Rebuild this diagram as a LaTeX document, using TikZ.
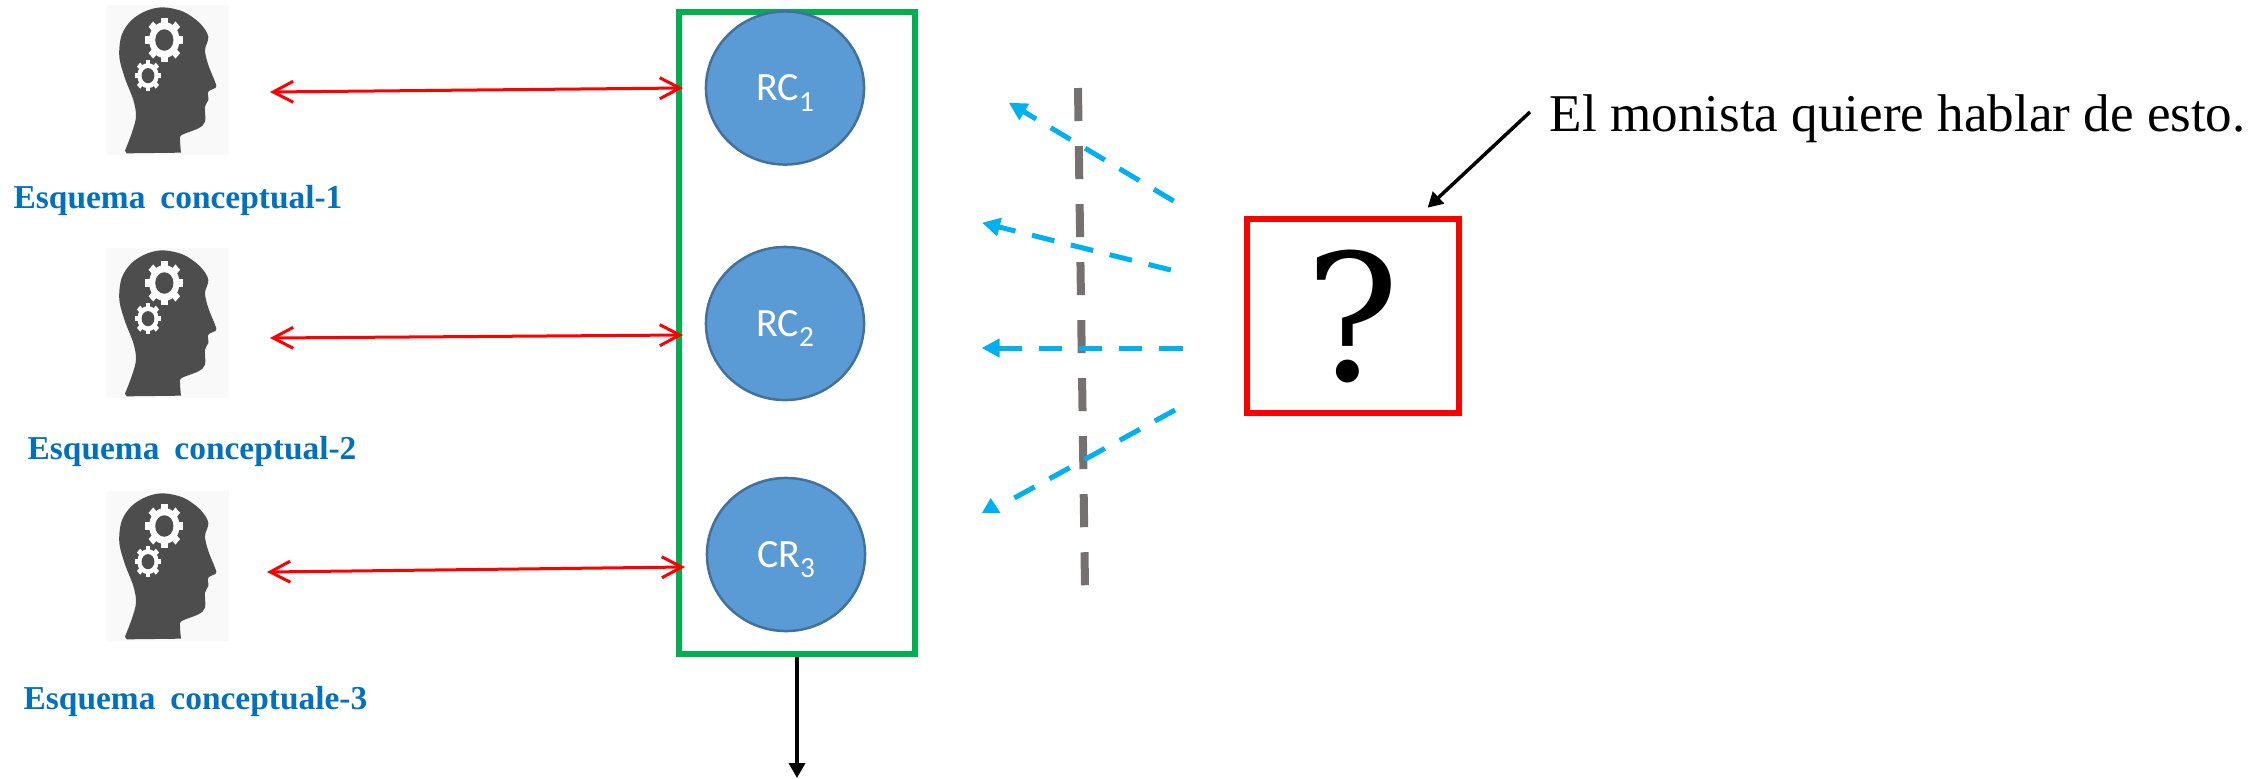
\documentclass[tikz,border=0pt]{standalone}
\usepackage{fontspec}
\setmainfont{Liberation Serif}
\newfontfamily\circlefont{Carlito}
\newfontfamily\markfont{DejaVu Serif}
\newfontfamily\labelfont[WordSpace=1.8]{Liberation Serif}
\usetikzlibrary{arrows.meta,shapes.geometric}

\definecolor{headgray}{HTML}{4D4D4D}
\definecolor{hatchgray}{HTML}{F9F9F9}
\definecolor{rcfill}{HTML}{5B9BD5}
\definecolor{rcedge}{HTML}{41719C}
\definecolor{groupgreen}{HTML}{00B050}
\definecolor{labelblue}{HTML}{0070C0}
\definecolor{viewcyan}{HTML}{00B0F0}
\definecolor{wallgray}{HTML}{767171}

\newcommand{\subidx}[1]{\raisebox{-3pt}[0pt][0pt]{\fontsize{8.3}{9}\selectfont #1}}
\newcommand{\gearicon}[3]{%
  \begin{scope}[shift={(#1,#2)},yscale=1.18]
    \fill[white] (0,0) circle [radius=.8*#3];
    \foreach \a in {0,45,...,315}
      \fill[white,rotate=\a] (-.17*#3,0) rectangle (.17*#3,#3);
    \fill[headgray] (0,0) circle [radius=.48*#3];
  \end{scope}}

\tikzset{
  headicon/.pic={
    \begin{scope}[scale=1/3]
      \fill[hatchgray] (318,15) rectangle (688,465);
      \fill[headgray] plot[smooth,tension=.55] coordinates {(375,452) (395,400) (408,350) (400,300) (375,235) (358,170) (365,105) (395,60) (440,32) (490,22) (550,35) (600,70) (625,110) (615,150) (625,195) (645,245) (648,262) (625,275) (625,300) (615,320) (615,365) (595,385) (545,405) (540,420) (543,458)} -- (380,460) -- cycle;
      \gearicon{493}{120}{57}
      \gearicon{444}{227}{40}
    \end{scope}
  },
  rcnode/.style={ellipse,draw=rcedge,fill=rcfill,line width=.025cm,inner sep=0pt,
    minimum width=1.58cm,minimum height=1.53cm,text=white,font=\circlefont\fontsize{11.4}{13}\selectfont},
  schemelabel/.style={anchor=base west,inner sep=0pt,text=labelblue,font=\labelfont\fontsize{9.5}{11}\selectfont\bfseries},
  linkarrow/.style={{Straight Barb[length=.2cm,width=.21cm]}-{Straight Barb[length=.2cm,width=.21cm]},red,line width=.03cm,line cap=round},
  viewarrow/.style={-{Triangle[length=.18cm,width=.18cm]},viewcyan,line width=.05cm,dash pattern=on .23cm off .17cm},
  blackarrow/.style={-{Triangle[length=.15cm,width=.16cm]},black,line width=.035cm},
}

\begin{document}
\begin{tikzpicture}[x=.01cm,y=-.01cm]
  \useasboundingbox (0,0) rectangle (2266,778);

  \pic at (0,0) {headicon};
  \pic at (0,243) {headicon};
  \pic at (0,486) {headicon};
  \node[schemelabel] (scheme1) at (13,208) {Esquema conceptual-1};
  \node[schemelabel] (scheme2) at (27,459) {Esquema conceptual-2};
  \node[schemelabel] (scheme3) at (23,709) {Esquema conceptuale-3};

  \node[draw=groupgreen,line width=.06cm,minimum width=2.36cm,minimum height=6.41cm,inner sep=0pt] (group) at (797,333) {};
  \node[rcnode] (rc1) at (785,88) {RC\subidx{1}};
  \node[rcnode] (rc2) at (785,323.5) {RC\subidx{2}};
  \node[rcnode] (rc3) at (786,554.5) {CR\subidx{3}};

  \coordinate (head1) at (270,92);
  \coordinate (head2) at (270,338);
  \coordinate (head3) at (267,572);
  \coordinate (in1) at (683,88);
  \coordinate (in2) at (683,335);
  \coordinate (in3) at (685,567);
  \draw[linkarrow] (head1) -- (in1);
  \draw[linkarrow] (head2) -- (in2);
  \draw[linkarrow] (head3) -- (in3);

  \coordinate (out) at (797,778);
  \draw[blackarrow] (group.south) -- (out);

  % wall between the circles and the box
  \coordinate (wallA) at (1078,88);
  \coordinate (wallB) at (1085,587);
  \draw[wallgray,line width=.08cm,dash pattern=on .33cm off .25cm] (wallA) -- (wallB);

  \node[draw=red,line width=.06cm,minimum width=2.12cm,minimum height=1.94cm,inner sep=0pt,
    font=\markfont\fontsize{50}{50}\selectfont] (query) at (1352.8,316) {?};

  \coordinate (fromA) at (1173.6,201);
  \coordinate (fromB) at (1170.8,270);
  \coordinate (fromC) at (1182.5,348);
  \coordinate (fromD) at (1175,410);
  \coordinate (toA) at (1008.8,102.7);
  \coordinate (toB) at (982,222.7);
  \coordinate (toC) at (981.6,348);
  \coordinate (toD) at (1007,502);
  \draw[viewarrow] (fromA) -- (toA);
  \draw[viewarrow] (fromB) -- (toB);
  \draw[viewarrow] (fromC) -- (toC);
  \draw[viewarrow,-] (fromD) -- (toD);
  \fill[viewcyan] (990.7,498) -- (1000.5,513) -- (982,513) -- cycle;

  \node[anchor=base west,inner sep=0pt,font=\fontsize{15.1}{18}\selectfont] (claim) at (1549,131) {El monista quiere hablar de esto.};
  \coordinate (claimend) at (1530,112);
  \coordinate (querytop) at (1427.6,207.7);
  \draw[blackarrow] (claimend) -- (querytop);
\end{tikzpicture}
\end{document}
